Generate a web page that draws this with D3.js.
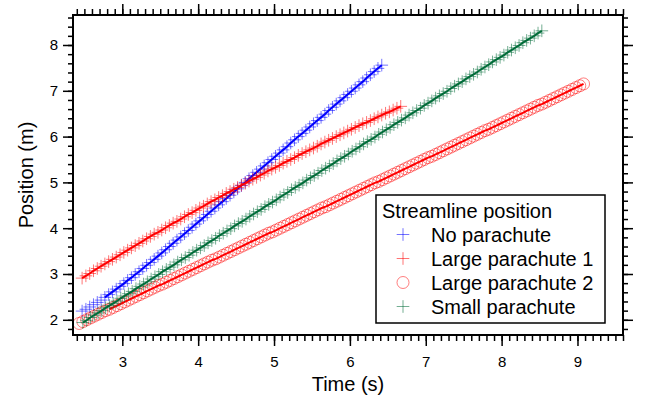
<!DOCTYPE html>
<html>
<head>
<meta charset="utf-8">
<script src="https://cdn.jsdelivr.net/npm/d3@7"></script>
<style>
  body { margin: 0; background: #fff; }
  svg { font-family: "Liberation Sans", Arial, sans-serif; }
</style>
</head>
<body>
<svg id="chart" width="647" height="401"></svg>
<script>
// Data (time in s, position in m)
const noParTime = [
  2.47,2.52,2.57,2.62,2.67,2.72,2.77,2.82,2.87,2.92,
  2.97,3.02,3.07,3.12,3.17,3.22,3.27,3.32,3.37,3.42,
  3.47,3.52,3.57,3.62,3.67,3.72,3.77,3.82,3.87,3.92,
  3.97,4.02,4.07,4.12,4.17,4.22,4.27,4.32,4.37,4.42,
  4.47,4.52,4.57,4.62,4.67,4.72,4.77,4.82,4.87,4.92,
  4.97,5.02,5.07,5.12,5.17,5.22,5.27,5.32,5.37,5.42,
  5.47,5.52,5.57,5.62,5.67,5.72,5.77,5.82,5.87,5.92,
  5.97,6.02,6.07,6.12,6.17,6.22,6.27,6.32,6.37,6.42];
const noParPos = [
  2.19,2.23,2.28,2.33,2.38,2.43,2.49,2.55,2.61,2.67,
  2.73,2.79,2.86,2.92,2.99,3.05,3.12,3.19,3.25,3.32,
  3.39,3.46,3.53,3.60,3.67,3.74,3.81,3.88,3.95,4.02,
  4.09,4.16,4.23,4.30,4.37,4.44,4.51,4.58,4.65,4.72,
  4.79,4.86,4.93,5.00,5.08,5.15,5.22,5.29,5.36,5.43,
  5.50,5.57,5.64,5.71,5.78,5.86,5.93,6.00,6.07,6.14,
  6.21,6.28,6.35,6.42,6.49,6.57,6.64,6.71,6.78,6.85,
  6.92,6.99,7.06,7.13,7.20,7.28,7.35,7.42,7.49,7.56];

const large1Time = [
  2.47,2.52,2.57,2.62,2.67,2.72,2.77,2.82,2.87,2.92,
  2.97,3.02,3.07,3.12,3.17,3.22,3.27,3.32,3.37,3.42,
  3.47,3.52,3.57,3.62,3.67,3.72,3.77,3.82,3.87,3.92,
  3.97,4.02,4.07,4.12,4.17,4.22,4.27,4.32,4.37,4.42,
  4.47,4.52,4.57,4.62,4.67,4.72,4.77,4.82,4.87,4.92,
  4.97,5.02,5.07,5.12,5.17,5.22,5.27,5.32,5.37,5.42,
  5.47,5.52,5.57,5.62,5.67,5.72,5.77,5.82,5.87,5.92,
  5.97,6.02,6.07,6.12,6.17,6.22,6.27,6.32,6.37,6.42,
  6.47,6.52,6.57,6.62,6.67];
const large1Pos = [
  2.91,2.96,3.01,3.07,3.12,3.17,3.22,3.27,3.32,3.37,
  3.42,3.47,3.52,3.57,3.62,3.67,3.72,3.77,3.82,3.87,
  3.91,3.96,4.01,4.06,4.11,4.15,4.20,4.25,4.30,4.34,
  4.39,4.44,4.48,4.53,4.58,4.62,4.67,4.71,4.76,4.80,
  4.85,4.89,4.94,4.98,5.03,5.07,5.11,5.16,5.20,5.25,
  5.29,5.33,5.37,5.42,5.46,5.50,5.54,5.59,5.63,5.67,
  5.71,5.75,5.79,5.84,5.88,5.92,5.96,6.00,6.04,6.08,
  6.12,6.16,6.20,6.24,6.28,6.31,6.35,6.39,6.43,6.47,
  6.51,6.54,6.58,6.62,6.66];

const large2Time = [
  2.43,2.48,2.53,2.58,2.63,2.68,2.73,2.78,2.83,2.88,
  2.93,2.98,3.03,3.08,3.13,3.18,3.23,3.28,3.33,3.38,
  3.43,3.48,3.53,3.58,3.63,3.68,3.73,3.78,3.83,3.88,
  3.93,3.98,4.03,4.08,4.13,4.18,4.23,4.28,4.33,4.38,
  4.43,4.48,4.53,4.58,4.63,4.68,4.73,4.78,4.83,4.88,
  4.93,4.98,5.03,5.08,5.13,5.18,5.23,5.28,5.33,5.38,
  5.43,5.48,5.53,5.58,5.63,5.68,5.73,5.78,5.83,5.88,
  5.93,5.98,6.03,6.08,6.13,6.18,6.23,6.28,6.33,6.38,
  6.43,6.48,6.53,6.58,6.63,6.68,6.73,6.78,6.83,6.88,
  6.93,6.98,7.03,7.08,7.13,7.18,7.23,7.28,7.33,7.38,
  7.43,7.48,7.53,7.58,7.63,7.68,7.73,7.78,7.83,7.88,
  7.93,7.98,8.03,8.08,8.13,8.18,8.23,8.28,8.33,8.38,
  8.43,8.48,8.53,8.58,8.63,8.68,8.73,8.78,8.83,8.88,
  8.93,8.98,9.03,9.08];
const large2Pos = [
  1.92,1.96,2.00,2.04,2.08,2.12,2.16,2.20,2.23,2.27,
  2.31,2.35,2.39,2.43,2.47,2.51,2.55,2.59,2.63,2.67,
  2.71,2.75,2.78,2.82,2.86,2.90,2.94,2.98,3.02,3.06,
  3.10,3.14,3.18,3.22,3.26,3.30,3.33,3.37,3.41,3.45,
  3.49,3.53,3.57,3.61,3.65,3.69,3.73,3.77,3.81,3.85,
  3.89,3.92,3.96,4.00,4.04,4.08,4.12,4.16,4.20,4.24,
  4.28,4.32,4.36,4.40,4.44,4.47,4.51,4.55,4.59,4.63,
  4.67,4.71,4.75,4.79,4.83,4.87,4.91,4.95,4.99,5.02,
  5.06,5.10,5.14,5.18,5.22,5.26,5.30,5.34,5.38,5.42,
  5.46,5.50,5.54,5.57,5.61,5.65,5.69,5.73,5.77,5.81,
  5.85,5.89,5.93,5.97,6.01,6.05,6.09,6.13,6.16,6.20,
  6.24,6.28,6.32,6.36,6.40,6.44,6.48,6.52,6.56,6.60,
  6.64,6.68,6.71,6.75,6.79,6.83,6.87,6.91,6.95,6.99,
  7.03,7.07,7.11,7.15];

const smallTime = [
  2.48,2.53,2.58,2.63,2.68,2.73,2.78,2.83,2.88,2.93,
  2.98,3.03,3.08,3.13,3.18,3.23,3.28,3.33,3.38,3.43,
  3.48,3.53,3.58,3.63,3.68,3.73,3.78,3.83,3.88,3.93,
  3.98,4.03,4.08,4.13,4.18,4.23,4.28,4.33,4.38,4.43,
  4.48,4.53,4.58,4.63,4.68,4.73,4.78,4.83,4.88,4.93,
  4.98,5.03,5.08,5.13,5.18,5.23,5.28,5.33,5.38,5.43,
  5.48,5.53,5.58,5.63,5.68,5.73,5.78,5.83,5.88,5.93,
  5.98,6.03,6.08,6.13,6.18,6.23,6.28,6.33,6.38,6.43,
  6.48,6.53,6.58,6.63,6.68,6.73,6.78,6.83,6.88,6.93,
  6.98,7.03,7.08,7.13,7.18,7.23,7.28,7.33,7.38,7.43,
  7.48,7.53,7.58,7.63,7.68,7.73,7.78,7.83,7.88,7.93,
  7.98,8.03,8.08,8.13,8.18,8.23,8.28,8.33,8.38,8.43,
  8.48,8.53];
const smallPos = [
  1.94,1.99,2.05,2.10,2.15,2.20,2.26,2.31,2.36,2.41,
  2.47,2.52,2.57,2.62,2.68,2.73,2.78,2.83,2.89,2.94,
  2.99,3.05,3.10,3.15,3.20,3.26,3.31,3.36,3.41,3.47,
  3.52,3.57,3.62,3.68,3.73,3.78,3.84,3.89,3.94,3.99,
  4.05,4.10,4.15,4.20,4.26,4.31,4.36,4.41,4.47,4.52,
  4.57,4.62,4.68,4.73,4.78,4.84,4.89,4.94,4.99,5.05,
  5.10,5.15,5.20,5.26,5.31,5.36,5.41,5.47,5.52,5.57,
  5.62,5.68,5.73,5.78,5.84,5.89,5.94,5.99,6.05,6.10,
  6.15,6.20,6.26,6.31,6.36,6.41,6.47,6.52,6.57,6.62,
  6.68,6.73,6.78,6.84,6.89,6.94,6.99,7.05,7.10,7.15,
  7.20,7.26,7.31,7.36,7.41,7.47,7.52,7.57,7.63,7.68,
  7.73,7.78,7.84,7.89,7.94,7.99,8.05,8.10,8.15,8.20,
  8.26,8.31];

// the solid line through each trace starts a little later for some of them
const seriesNames = ["No parachute", "Large parachute 1", "Large parachute 2", "Small parachute"];
const lineFrom = [2.75, 2.47, 2.8, 2.48];
const xTicks = [3, 4, 5, 6, 7, 8, 9];
const yTicks = [2, 3, 4, 5, 6, 7, 8];
const legendTitle = "Streamline position";

const series = [
  { name: seriesNames[0], t: noParTime, p: noParPos, color: "#0000ff", marker: "plus", from: lineFrom[0] },
  { name: seriesNames[1], t: large1Time, p: large1Pos, color: "#ff0000", marker: "plus", from: lineFrom[1] },
  { name: seriesNames[2], t: large2Time, p: large2Pos, color: "#ff0000", marker: "circle", from: lineFrom[2] },
  { name: seriesNames[3], t: smallTime, p: smallPos, color: "#006b38", marker: "plus", from: lineFrom[3] }
];

const svg = d3.select("#chart");
const plotL = 73, plotR = 623, plotT = 15, plotB = 335;

const x = d3.scaleLinear().domain([2.35, 9.6]).range([plotL, plotR]);
const y = d3.scaleLinear().domain([1.668, 8.655]).range([plotB, plotT]);

// Igor-style "+" marker
const plus = {
  draw(ctx, size) {
    const r = Math.sqrt(size) / 2;
    ctx.moveTo(-r, 0); ctx.lineTo(r, 0);
    ctx.moveTo(0, -r); ctx.lineTo(0, r);
  }
};
const plusPath = d3.symbol().type(plus).size(160)();

// traces
const line = d3.line().x(d => x(d.t)).y(d => y(d.p));
series.forEach(s => {
  const pts = s.t.map((t, i) => ({ t: t, p: s.p[i] }));
  const g = svg.append("g");
  if (s.marker === "plus") {
    g.selectAll("path").data(pts).enter().append("path")
      .attr("d", plusPath)
      .attr("transform", d => `translate(${x(d.t)},${y(d.p)})`)
      .attr("fill", "none")
      .attr("stroke", s.color)
      .attr("stroke-opacity", 0.55)
      .attr("stroke-width", 1);
  } else {
    g.selectAll("circle").data(pts).enter().append("circle")
      .attr("cx", d => x(d.t))
      .attr("cy", d => y(d.p))
      .attr("r", 6)
      .attr("fill", "none")
      .attr("stroke", s.color)
      .attr("stroke-opacity", 0.5)
      .attr("stroke-width", 1);
  }
  g.append("path")
    .datum(pts.filter(d => d.t >= s.from))
    .attr("d", line)
    .attr("fill", "none")
    .attr("stroke", s.color)
    .attr("stroke-width", 2);
});

// axes on all four sides, ticks outside
function styleAxis(g, fs) {
  g.select(".domain").remove();
  g.selectAll(".tick line").attr("stroke", "#000").attr("stroke-width", 1.5);
  g.selectAll(".tick text").attr("fill", "#000").attr("font-size", fs);
  g.attr("font-family", null);
}
const xMinor = x.ticks(70), yMinor = y.ticks(35);

svg.append("g").attr("transform", `translate(0,${plotB})`)
  .call(d3.axisBottom(x).tickValues(xMinor).tickSize(6).tickFormat(""))
  .call(g => styleAxis(g, 15));
svg.append("g").attr("transform", `translate(0,${plotB})`)
  .call(d3.axisBottom(x).tickValues(xTicks).tickSize(11).tickPadding(10).tickFormat(d3.format("d")))
  .call(g => styleAxis(g, 15));
svg.append("g").attr("transform", `translate(0,${plotT})`)
  .call(d3.axisTop(x).tickValues(xMinor).tickSize(6).tickFormat(""))
  .call(g => styleAxis(g, 15));
svg.append("g").attr("transform", `translate(0,${plotT})`)
  .call(d3.axisTop(x).tickValues(xTicks).tickSize(11).tickFormat(""))
  .call(g => styleAxis(g, 15));

svg.append("g").attr("transform", `translate(${plotL},0)`)
  .call(d3.axisLeft(y).tickValues(yMinor).tickSize(5).tickFormat(""))
  .call(g => styleAxis(g, 15));
svg.append("g").attr("transform", `translate(${plotL},0)`)
  .call(d3.axisLeft(y).tickValues(yTicks).tickSize(10).tickPadding(5).tickFormat(d3.format("d")))
  .call(g => styleAxis(g, 15));
svg.append("g").attr("transform", `translate(${plotR},0)`)
  .call(d3.axisRight(y).tickValues(yMinor).tickSize(5).tickFormat(""))
  .call(g => styleAxis(g, 15));
svg.append("g").attr("transform", `translate(${plotR},0)`)
  .call(d3.axisRight(y).tickValues(yTicks).tickSize(10).tickFormat(""))
  .call(g => styleAxis(g, 15));

// frame
svg.append("rect")
  .attr("x", plotL).attr("y", plotT)
  .attr("width", plotR - plotL).attr("height", plotB - plotT)
  .attr("fill", "none").attr("stroke", "#000").attr("stroke-width", 2);

// axis titles
svg.append("text")
  .attr("x", (plotL + plotR) / 2).attr("y", 391)
  .attr("text-anchor", "middle").attr("font-size", 20)
  .text("Time (s)");
svg.append("text")
  .attr("transform", `translate(33,${(plotT + plotB) / 2}) rotate(-90)`)
  .attr("text-anchor", "middle").attr("font-size", 20)
  .text("Position (m)");

// legend
const lg = svg.append("g").attr("transform", "translate(376,195)");
lg.append("rect").attr("width", 229).attr("height", 128)
  .attr("fill", "#fff").attr("stroke", "#000").attr("stroke-width", 1.5);
lg.append("text").attr("x", 6).attr("y", 22.5).attr("font-size", 20).text(legendTitle);
series.forEach((s, i) => {
  const cy = 39.5 + i * 24;
  if (s.marker === "plus") {
    lg.append("path").attr("d", plusPath)
      .attr("transform", `translate(27,${cy})`)
      .attr("fill", "none").attr("stroke", s.color)
      .attr("stroke-opacity", 0.55).attr("stroke-width", 1);
  } else {
    lg.append("circle").attr("cx", 27).attr("cy", cy).attr("r", 6)
      .attr("fill", "none").attr("stroke", s.color)
      .attr("stroke-opacity", 0.5).attr("stroke-width", 1);
  }
  lg.append("text").attr("x", 55).attr("y", cy + 7).attr("font-size", 20).text(s.name);
});
</script>
</body>
</html>
